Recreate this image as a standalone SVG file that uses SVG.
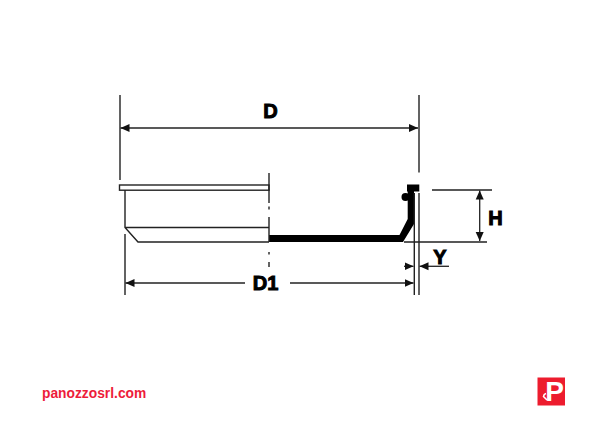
<svg xmlns="http://www.w3.org/2000/svg" width="600" height="424" viewBox="0 0 600 424">
<defs>
<marker id="ah" markerUnits="userSpaceOnUse" markerWidth="10" markerHeight="10" refX="9" refY="5" orient="auto-start-reverse" viewBox="0 0 10 10"><path d="M0 1L9 5L0 9Z" fill="#111"/></marker>
</defs>
<style>
.l{stroke:#222;stroke-width:1.4;fill:none}
.d{stroke:#222;stroke-width:1.3;fill:none;marker-end:url(#ah)}
.t{font-family:"Liberation Sans",Arial,sans-serif;font-weight:bold;fill:#000;text-anchor:middle;font-size:20px;stroke:#000;stroke-width:1}
</style>
<rect width="600" height="424" fill="#fff"/>
<g id="pan-section">
<rect x="119.5" y="185" width="149.5" height="5.2" fill="#fff" class="l"/>
<path class="l" d="M125 190V227.5L138 242H269M125 227.5H269"/>
<path d="M269 235H399.5L407.700 219V191.500H407V184.500H419.300V191.500H414V224L403 242H269Z" fill="#000"/>
<circle cx="405.500" cy="197" r="4" fill="#000"/>
</g>
<g id="connectors">
<path class="l" d="M269 173V203M269 206.500V209.500M269 217V242M269 252V254.500M269 262V267"/>
<path class="l" d="M120 95V180M419 95V172.500M419 193V295M414.300 193V295M125 234V295"/>
<path class="l" d="M432 190H492M404 242H487"/>
<path class="d" style="marker-start:url(#ah)" d="M120.500 128H418"/>
<path class="d" d="M245 283H125.500"/>
<path class="d" d="M290 283H413.500"/>
<path class="d" style="marker-start:url(#ah)" d="M479.700 190.500V241"/>
<path class="d" d="M404 266.300H413.500"/>
<path class="d" d="M449 266.300H419.500"/>
</g>
<g id="labels">
<text class="t" x="270.500" y="118">D</text>
<text class="t" x="265.500" y="290">D1</text>
<text class="t" x="495.500" y="225">H</text>
<text class="t" x="440" y="264">Y</text>
</g>
<g id="brand">
<text x="42" y="398" font-family="'Liberation Sans',Arial,sans-serif" font-weight="bold" font-size="13.800" fill="#ed1c3a">panozzosrl.com</text>
<rect x="537.500" y="377.500" width="27.500" height="28" fill="#ed1c2e"/>
<text x="554.500" y="401" text-anchor="middle" font-family="'Liberation Sans',Arial,sans-serif" font-weight="bold" font-size="28" fill="#fff">P</text>
<path d="M546 393.500a3.500 3.500 0 0 0-2.500 3l3.500 3.500" fill="none" stroke="#fff" stroke-width="1.600"/>
</g>
</svg>
